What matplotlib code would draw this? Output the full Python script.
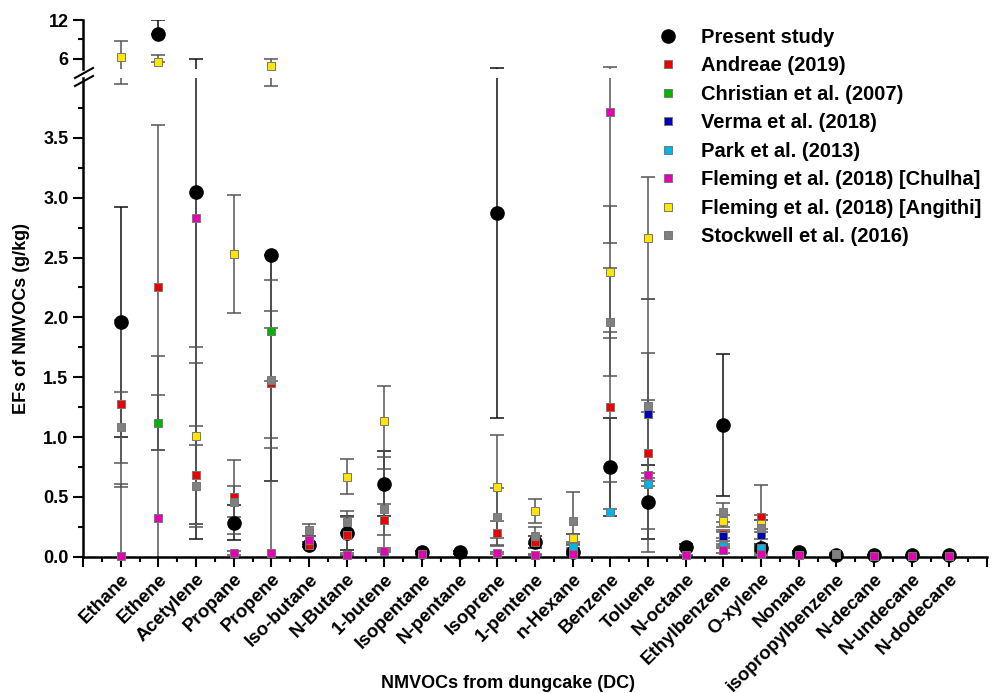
import numpy as np
import matplotlib
matplotlib.use("Agg")
import matplotlib.pyplot as plt

plt.rcParams['font.family'] = ['Liberation Sans', 'DejaVu Sans']
plt.rcParams['font.weight'] = 'bold'

nan = np.nan

compounds = ["Ethane", "Ethene", "Acetylene", "Propane", "Propene", "Iso-butane",
             "N-Butane", "1-butene", "Isopentane", "N-pentane", "Isoprene", "1-pentene",
             "n-Hexane", "Benzene", "Toluene", "N-octane", "Ethylbenzene", "O-xylene",
             "Nonane", "isopropylbenzene", "N-decane", "N-undecane", "N-dodecane"]

# present study (asymmetric error bars)
present = [1.96, 9.85, 3.05, 0.285, 2.52, 0.10, 0.20, 0.61, 0.035, 0.035, 2.87, 0.12,
           0.04, 0.75, 0.46, 0.085, 1.10, 0.075, 0.035, 0.015, 0.01, 0.01, 0.01]
present_lo = [0.96, 0, 2.90, 0.145, 1.89, 0.02, 0.14, 0.27, 0.01, 0.01, 1.71, 0.05,
              0.02, 0.41, 0.31, 0.02, 0.59, 0.03, 0.01, 0.005, 0.005, 0.005, 0.005]
present_hi = [0.96, 2.15, 2.90, 0.145, 0, 0.02, 0.14, 0.27, 0.01, 0.01, 1.71, 0.05,
              0.02, 0.41, 0.31, 0.02, 0.59, 0.03, 0.01, 0.005, 0.005, 0.005, 0.005]

andreae = [1.28, 2.25, 0.68, 0.50, 1.45, 0.10, 0.18, 0.31, nan, nan, 0.20, 0.12,
           0.12, 1.25, 0.87, nan, 0.19, 0.33, nan, nan, nan, nan, nan]
andreae_err = [0.70, 1.36, 0.41, 0.31, 0.46, 0.02, 0.15, 0.13, nan, nan, 0.10, 0.05,
               0.07, 0.63, 0.83, nan, 0.03, 0.02, nan, nan, nan, nan, nan]

christian = [nan, 1.12, nan, nan, 1.89, nan, nan, nan, nan, nan, nan, nan,
             nan, nan, nan, nan, nan, nan, nan, nan, nan, nan, nan]
christian_err = [nan, 0.23, nan, nan, 0.42, nan, nan, nan, nan, nan, nan, nan,
                 nan, nan, nan, nan, nan, nan, nan, nan, nan, nan, nan]

verma = [nan, nan, nan, nan, nan, nan, nan, nan, nan, nan, nan, nan,
         0.09, nan, 1.19, nan, 0.17, 0.18, nan, nan, nan, nan, nan]
verma_err = [nan, nan, nan, nan, nan, nan, nan, nan, nan, nan, nan, nan,
             0.02, nan, 0.96, nan, 0.04, 0.03, nan, nan, nan, nan, nan]

park = [nan, nan, nan, nan, nan, nan, nan, nan, nan, nan, nan, nan,
        0.08, 0.37, 0.61, nan, 0.09, 0.07, nan, nan, nan, nan, nan]
park_err = [nan, nan, nan, nan, nan, nan, nan, nan, nan, nan, nan, nan,
            0.02, 0.03, 0.02, nan, 0.02, 0.02, nan, nan, nan, nan, nan]

chulha = [0.005, 0.32, 2.83, 0.03, 0.03, 0.14, 0.01, 0.05, 0.02, nan, 0.03, 0.015,
          0.02, 3.72, 0.68, 0.01, 0.06, 0.02, 0.01, nan, 0.005, 0.005, 0.005]
chulha_err = [0.60, 1.36, 1.21, 0.02, 0.60, 0.03, 0.005, 0.01, 0.005, nan, 0.01, 0.005,
              0.005, 1.10, 0.02, 0.005, 0.03, 0.01, 0.005, nan, 0.002, 0.002, 0.002]

angithi = [6.35, 5.6, 1.01, 2.53, 4.97, nan, 0.67, 1.13, nan, nan, 0.585, 0.38,
           0.155, 2.38, 2.66, nan, 0.30, 0.27, nan, 0.025, nan, nan, nan]
angithi_lo = [2.40, 0, 0.74, 0.49, 1.04, nan, 0.145, 0.30, nan, nan, 0.43, 0.10,
              0.035, 0.55, 0.51, nan, 0.05, 0.04, nan, 0.005, nan, nan, nan]
angithi_hi = [2.45, 1.0, 0.74, 0.49, 1.03, nan, 0.145, 0.30, nan, nan, 0.43, 0.10,
              0.035, 0.55, 0.51, nan, 0.05, 0.04, nan, 0.005, nan, nan, nan]

stockwell = [1.08, nan, 0.59, 0.46, 1.48, 0.22, 0.29, 0.40, nan, nan, 0.33, 0.175,
             0.30, 1.96, 1.26, nan, 0.37, 0.24, nan, 0.02, nan, nan, nan]
stockwell_err = [0.30, nan, 0.34, 0.13, 0.57, 0.05, 0.09, 0.33, nan, nan, 0.24, 0.07,
                 0.24, 0.45, 0.05, nan, 0.08, 0.36, nan, 0.005, nan, nan, nan]

series = [
    ("Andreae (2019)", andreae, andreae_err, andreae_err, "#ee0000"),
    ("Christian et al. (2007)", christian, christian_err, christian_err, "#00b400"),
    ("Verma et al. (2018)", verma, verma_err, verma_err, "#0000b4"),
    ("Park et al. (2013)", park, park_err, park_err, "#00b4e6"),
    ("Fleming et al. (2018) [Chulha]", chulha, chulha_err, chulha_err, "#e600b4"),
    ("Fleming et al. (2018) [Angithi]", angithi, angithi_lo, angithi_hi, "#ffe600"),
    ("Stockwell et al. (2016)", stockwell, stockwell_err, stockwell_err, "#808080"),
]

fig = plt.figure(figsize=(9.97, 6.93), dpi=100)
ax = fig.add_axes([0.0833, 0.1967, 0.9067, 0.6907])
ax_top = fig.add_axes([0.0833, 0.9004, 0.9067, 0.0707], sharex=ax)

LOW_MAX = 4.0
TOP_MIN = 4.45
x = np.arange(1, len(compounds) + 1)


def draw(vals, lo, hi, ecolor, z, **mk):
    vals = np.array(vals, float)
    err = np.array([lo, hi], float)
    for a in (ax, ax_top):
        a.errorbar(x, vals, yerr=err, fmt='none', ecolor=ecolor, elinewidth=1.1,
                   capsize=5, capthick=1.1, zorder=2)
    low = np.where(vals <= LOW_MAX, vals, nan)
    high = np.where(vals > TOP_MIN, vals, nan)
    h, = ax.plot(x, low, ls='none', clip_on=False, zorder=z, **mk)
    ax_top.plot(x, high, ls='none', clip_on=False, zorder=z, **mk)
    return h


handles = []
handles.append(draw(present, present_lo, present_hi, "#111111", 3, marker='o',
                    ms=9.5, mfc='black', mec='black', label="Present study"))
for name, vals, lo, hi, col in series:
    handles.append(draw(vals, lo, hi, "#555555", 4, marker='s', ms=5.2, mfc=col,
                        mec='#777777', mew=0.7, label=name))

# axes styling
ax.set_xlim(0, 24)
ax.set_ylim(0, LOW_MAX)
ax_top.set_ylim(TOP_MIN, 12)

for s in ("top", "right"):
    ax.spines[s].set_visible(False)
for s in ("top", "right", "bottom"):
    ax_top.spines[s].set_visible(False)
for a in (ax, ax_top):
    a.spines["left"].set_linewidth(1.8)
ax.spines["bottom"].set_linewidth(1.8)

ax.set_yticks(np.arange(0, 3.6, 0.5))
ax.set_yticks(np.arange(0.25, 4.0, 0.5), minor=True)
ax.set_yticklabels(["%.1f" % v for v in np.arange(0, 3.6, 0.5)])
ax_top.set_yticks([6, 12])
ax_top.set_yticks([9], minor=True)
ax_top.set_yticklabels(["6", "12"])

ax.set_xticks(np.arange(0, 25))
ax.set_xticks(np.arange(0.5, 24, 1), minor=True)
ax.set_xticklabels([""] + compounds + [""], rotation=45, ha='right',
                   rotation_mode='anchor')

for a in (ax, ax_top):
    a.tick_params(which='major', direction='out', length=7, width=1.5, labelsize=13)
    a.tick_params(which='minor', direction='out', length=3.5, width=1.5)
ax_top.tick_params(axis='x', which='both', bottom=False, labelbottom=False)
ax.tick_params(axis='x', which='major', pad=3, labelsize=13.5)

# axis break marks
for dy in (0, 8):
    fig.add_artist(plt.Line2D([75 / 997, 93 / 997],
                              [1 - (78 + dy) / 693, 1 - (68 + dy) / 693],
                              color='black', lw=1.5))

fig.text(508 / 997, 1 - 683 / 693, "NMVOCs from dungcake (DC)", ha='center',
         va='center', fontsize=13, fontweight='bold')
fig.text(22 / 997, 1 - 318 / 693, "EFs of NMVOCs (g/kg)", ha='center',
         va='center', rotation=90, fontsize=13, fontweight='bold')

fig.legend(handles=handles, loc='upper left', bbox_to_anchor=(655 / 997, 1 - 28 / 693),
           frameon=False, labelspacing=0.47, handlelength=1.3,
           handletextpad=1.0, borderpad=0, borderaxespad=0, numpoints=1,
           prop={'weight': 'bold', 'size': 14.5})

fig.savefig("out.png", dpi=100)
